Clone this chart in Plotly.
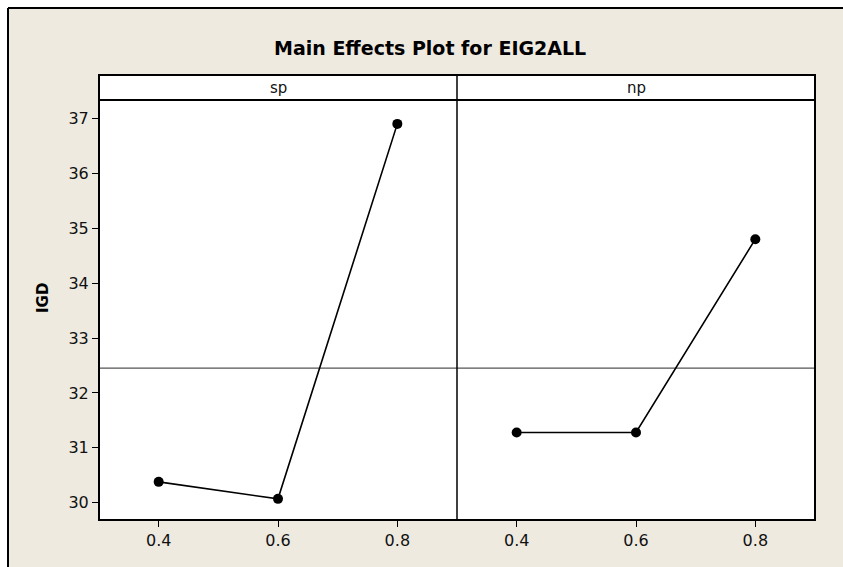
import plotly.graph_objects as go
from plotly.subplots import make_subplots

# Factor levels and mean response (IGD) at each level
levels = [0.4, 0.6, 0.8]
sp_means = [30.38, 30.07, 36.90]
np_means = [31.28, 31.28, 34.80]
factor_names = ["sp", "np"]
y_ticks = [30, 31, 32, 33, 34, 35, 36, 37]
x_ticks = [0.4, 0.6, 0.8]

grand_mean = (sum(sp_means) + sum(np_means)) / (len(sp_means) + len(np_means))

W, H = 843, 567
FONT = "DejaVu Sans"
BEIGE = "#eeeae0"


def px(x):
    return x / W


def py(y):
    return 1 - y / H


fig = make_subplots(rows=1, cols=2, shared_yaxes=True, horizontal_spacing=0)

for col, vals in enumerate([sp_means, np_means], start=1):
    fig.add_trace(
        go.Scatter(
            x=levels,
            y=vals,
            mode="lines+markers",
            line=dict(color="black", width=1.6),
            marker=dict(color="black", size=10),
            showlegend=False,
            hoverinfo="x+y",
        ),
        row=1,
        col=col,
    )

left, mid, right = px(99), px(457), px(815)
bottom, top, strip_top = py(520), py(100), py(75)

axis_common = dict(
    showline=False,
    showgrid=False,
    zeroline=False,
    tickfont=dict(family=FONT, size=16, color="#111111"),
)
x_common = dict(range=[0.3, 0.9], tickvals=x_ticks,
                ticktext=[f"{v:.1f}" for v in x_ticks], ticks="outside",
                ticklen=6, tickwidth=1, tickcolor="black", **axis_common)

fig.update_layout(
    width=W,
    height=H,
    margin=dict(l=0, r=0, t=0, b=0),
    paper_bgcolor="white",
    plot_bgcolor="rgba(0,0,0,0)",
    xaxis=dict(domain=[left, mid], **x_common),
    xaxis2=dict(domain=[mid, right], **x_common),
    yaxis=dict(
        domain=[bottom, top], range=[29.685, 37.335], tickvals=y_ticks,
        ticks="outside", ticklen=6, tickwidth=1, tickcolor="black", **axis_common,
    ),
    yaxis2=dict(
        domain=[bottom, top], range=[29.685, 37.335], showticklabels=False,
        ticks="", **axis_common,
    ),
)

shapes = [
    # beige frame around the whole chart
    dict(type="rect", xref="paper", yref="paper", x0=px(8), x1=1.05, y0=-0.05,
         y1=py(8), fillcolor=BEIGE, line=dict(width=0), layer="below"),
    dict(type="line", xref="paper", yref="paper", x0=px(8), x1=px(8), y0=-0.05,
         y1=py(8), line=dict(color="black", width=2), layer="below"),
    dict(type="line", xref="paper", yref="paper", x0=px(8), x1=1.05, y0=py(8),
         y1=py(8), line=dict(color="black", width=2), layer="below"),
    # white plotting region and header strip
    dict(type="rect", xref="paper", yref="paper", x0=left, x1=right, y0=bottom,
         y1=strip_top, fillcolor="white", line=dict(width=0), layer="below"),
]

# overall mean reference line in each panel
for xr, yr in [("x domain", "y"), ("x2 domain", "y2")]:
    shapes.append(dict(type="line", xref=xr, yref=yr, x0=0, x1=1, y0=grand_mean,
                       y1=grand_mean, line=dict(color="#555555", width=1.2),
                       layer="below"))

# panel outlines, strip separator and divider between panels
shapes += [
    dict(type="rect", xref="paper", yref="paper", x0=left, x1=right, y0=bottom,
         y1=strip_top, fillcolor="rgba(0,0,0,0)",
         line=dict(color="black", width=2), layer="above"),
    dict(type="line", xref="paper", yref="paper", x0=left, x1=right, y0=top,
         y1=top, line=dict(color="black", width=2), layer="above"),
    dict(type="line", xref="paper", yref="paper", x0=mid, x1=mid, y0=bottom,
         y1=strip_top, line=dict(color="black", width=1.5), layer="above"),
]

fig.update_layout(shapes=shapes)

annotations = [
    dict(text="<b>Main Effects Plot for EIG2ALL</b>", xref="paper", yref="paper",
         x=px(430), y=py(48), xanchor="center", yanchor="middle",
         showarrow=False, font=dict(family=FONT, size=19, color="black")),
    dict(text="<b>IGD</b>", xref="paper", yref="paper", x=px(43), y=py(298),
         xanchor="center", yanchor="middle", showarrow=False, textangle=-90,
         font=dict(family=FONT, size=15, color="black")),
]
for name, (a, b) in zip(factor_names, [(99, 457), (457, 815)]):
    annotations.append(dict(text=name, xref="paper", yref="paper",
                            x=px((a + b) / 2), y=py(87.5), xanchor="center",
                            yanchor="middle", showarrow=False,
                            font=dict(family=FONT, size=15, color="#111111")))

fig.update_layout(annotations=annotations)

fig.write_html("out.html")
